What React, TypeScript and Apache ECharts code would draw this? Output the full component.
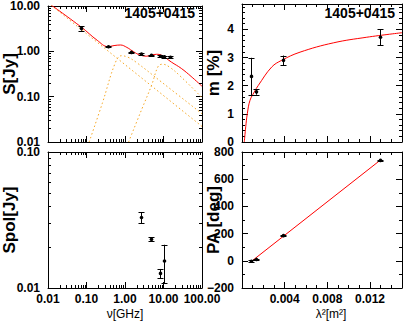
import React, { useEffect, useRef } from 'react';
import * as echarts from 'echarts';

// ---------- Panel 1: total flux density S [Jy] vs frequency [GHz]
const sFreq = [0.074, 0.365, 1.4, 2.64, 4.85, 8.35, 10.45, 14.6];
const sFlux = [3.2, 1.26, 0.95, 0.87, 0.82, 0.78, 0.76, 0.74];
const sErr = [0.35, 0.04, 0.03, 0.03, 0.02, 0.03, 0.03, 0.03];
// total fit (red)
const fitFreq = [0.01, 0.074, 0.19, 0.36, 0.52, 0.76, 1.12, 1.7, 2.43, 3.66, 4.92, 6.6, 8.9, 16, 29, 52, 100];
const fitFlux = [11.8, 3.4, 1.75, 1.27, 1.34, 1.38, 1.22, 0.97, 0.83, 0.78, 0.83, 0.86, 0.82, 0.58, 0.42, 0.28, 0.17];
// components (orange dotted)
const compCFreq = [0.01, 100];
const compCFlux = [11.8, 0.022];
const compAFreq = [0.117, 0.257, 0.56, 0.8, 1.2, 2.03, 8.9, 100];
const compAFlux = [0.01, 0.071, 0.56, 0.8, 0.74, 0.56, 0.21, 0.042];
const compBFreq = [1.24, 2.73, 4.92, 7.3, 9.4, 14.3, 29, 100];
const compBFlux = [0.01, 0.053, 0.18, 0.47, 0.52, 0.45, 0.27, 0.095];

// ---------- Panel 2: fractional polarisation m [%] vs lambda^2
const lam2 = [0.000823, 0.001289, 0.00382, 0.0129];
const mPct = [2.33, 1.78, 2.9, 3.72];
const mErr = [0.66, 0.1, 0.17, 0.29];
const mFitX = [0.000216, 0.00035, 0.0005, 0.00075, 0.00116, 0.00153, 0.00278, 0.00372, 0.00544, 0.00856, 0.0117, 0.015];
const mFitY = [0, 0.54, 1.01, 1.48, 1.78, 2.01, 2.66, 2.9, 3.19, 3.52, 3.72, 3.88];

// ---------- Panel 3: polarised flux Spol [Jy] vs frequency
const pFreq = [2.64, 4.85, 8.35, 10.45];
const pFlux = [0.033, 0.0228, 0.0128, 0.0158];
const pErr = [0.003, 0.0008, 0.001, 0.005];

// ---------- Panel 4: polarisation angle PA [deg] vs lambda^2
const paDeg = [-3, 10, 185, 738];
const paErr = [6, 6, 6, 4];
const paFitX = [0.00082, 0.013];
const paFitY = [-8, 742];

// tick labels
const freqTickLabels = ['0.01', '0.10', '1.00', '10.00', '100.00'];
const sTickLabels = ['0.01', '0.10', '1.00', '10.00'];
const spolTickLabels = ['0.01', '0.10'];
const lamTickLabels = ['0.004', '0.008', '0.012'];

const FONT = 'Liberation Sans';
const BLACK = '#000';
const RED = '#ff0000';
const ORANGE = '#f5a623';

function logMinor(lo: number, hi: number): number[] {
  const out: number[] = [];
  for (let e = Math.round(Math.log10(lo)); e < Math.round(Math.log10(hi)); e++) {
    for (let k = 2; k <= 9; k++) out.push(k * Math.pow(10, e));
  }
  return out;
}

const px = (v: number) => Math.round(v) + 0.5;

function minorTicks(xi: number, yi: number, vals: number[], dir: 'x' | 'y', ref: number, len = 3) {
  return {
    type: 'custom',
    xAxisIndex: xi,
    yAxisIndex: yi,
    silent: true,
    clip: false,
    z: 5,
    encode: { x: 0, y: 1 },
    data: vals.map((v) => (dir === 'x' ? [v, ref] : [ref, v])),
    renderItem: (params: any, api: any) => {
      const cs = params.coordSys;
      const st = { stroke: BLACK, lineWidth: 1 };
      const c = api.coord([api.value(0), api.value(1)]);
      if (dir === 'x') {
        const x = px(c[0]);
        const yb = cs.y + cs.height;
        return {
          type: 'group',
          children: [
            { type: 'line', shape: { x1: x, y1: yb, x2: x, y2: yb - len }, style: st },
            { type: 'line', shape: { x1: x, y1: cs.y, x2: x, y2: cs.y + len }, style: st },
          ],
        };
      }
      const y = px(c[1]);
      const xr = cs.x + cs.width;
      return {
        type: 'group',
        children: [
          { type: 'line', shape: { x1: cs.x, y1: y, x2: cs.x + len, y2: y }, style: st },
          { type: 'line', shape: { x1: xr, y1: y, x2: xr - len, y2: y }, style: st },
        ],
      };
    },
  };
}

function errorBars(xi: number, yi: number, xs: number[], ys: number[], es: number[]) {
  return {
    type: 'custom',
    xAxisIndex: xi,
    yAxisIndex: yi,
    silent: true,
    z: 10,
    encode: { x: 0, y: 1 },
    data: xs.map((x, i) => [x, ys[i], ys[i] - es[i], ys[i] + es[i]]),
    renderItem: (params: any, api: any) => {
      const x = api.value(0);
      const p = api.coord([x, api.value(1)]);
      const a = api.coord([x, api.value(2)]);
      const b = api.coord([x, api.value(3)]);
      const w = 3;
      const cx = px(p[0]);
      const st = { stroke: BLACK, lineWidth: 1 };
      return {
        type: 'group',
        children: [
          { type: 'line', shape: { x1: cx, y1: a[1], x2: cx, y2: b[1] }, style: st },
          { type: 'line', shape: { x1: cx - w, y1: px(a[1]), x2: cx + w, y2: px(a[1]) }, style: st },
          { type: 'line', shape: { x1: cx - w, y1: px(b[1]), x2: cx + w, y2: px(b[1]) }, style: st },
          { type: 'circle', shape: { cx: cx, cy: p[1], r: 1.8 }, style: { fill: BLACK } },
        ],
      };
    },
  };
}

const lineSeries = (xi: number, yi: number, xs: number[], ys: number[], color: string, dotted: boolean, smooth: number | boolean) => ({
  type: 'line',
  xAxisIndex: xi,
  yAxisIndex: yi,
  data: xs.map((x, i) => [x, ys[i]]),
  showSymbol: false,
  symbol: 'none',
  smooth,
  clip: true,
  silent: true,
  z: dotted ? 3 : 4,
  lineStyle: { color, width: 1, type: dotted ? [1.5, 2.5] : 'solid' },
});

const labelStyle = { fontFamily: FONT, fontWeight: 'bold', fontSize: 12, color: BLACK };

function fmtFixed(labels: string[]) {
  return (v: number) => {
    for (const l of labels) {
      if (Math.abs(parseFloat(l) / v - 1) < 1e-6) return l;
    }
    return '';
  };
}

function axisPair(gridIndex: number, kind: 'x' | 'y', base: any, showLabel: boolean, labelExtra: any, nameExtra: any) {
  const common = {
    gridIndex,
    ...base,
    axisLine: { show: true, onZero: false, lineStyle: { color: BLACK, width: 1 } },
    axisTick: { show: true, inside: true, length: 6, lineStyle: { color: BLACK, width: 1 } },
    splitLine: { show: false },
  };
  const main = {
    ...common,
    position: kind === 'x' ? 'bottom' : 'left',
    axisLabel: showLabel ? { show: true, ...labelStyle, ...labelExtra } : { show: false },
    ...(kind === 'y' ? { nameMoveOverlap: false } : {}),
    ...nameExtra,
  };
  const mirror = {
    ...common,
    position: kind === 'x' ? 'top' : 'right',
    axisLabel: { show: false },
  };
  return [main, mirror];
}

export default function App() {
  const ref = useRef<HTMLDivElement>(null);
  useEffect(() => {
    if (!ref.current) return;
    const chart = echarts.init(ref.current, null, { renderer: 'svg' });

    const grids = [
      { left: 45, top: 4, width: 157, height: 138 },
      { left: 242, top: 4, width: 160, height: 138 },
      { left: 45, top: 152, width: 157, height: 136 },
      { left: 242, top: 152, width: 160, height: 136 },
    ];

    const logFreq = { type: 'log', logBase: 10, min: 0.01, max: 100 };
    const linLam = { type: 'value', min: 0, max: 0.015, interval: 0.004, minorTick: { show: true, splitNumber: 4, length: 3, lineStyle: { color: BLACK } } };

    const yName = (name: string, gap: number) => ({
      name,
      nameLocation: 'middle',
      nameRotate: 90,
      nameGap: gap,
      nameTextStyle: { fontFamily: FONT, fontWeight: 'bold', fontSize: 17, color: BLACK },
    });
    const xName = (name: string, gap: number, pad: number[]) => ({
      name,
      nameLocation: 'middle',
      nameGap: gap,
      nameMoveOverlap: false,
      nameTextStyle: { fontFamily: FONT, fontSize: 12, color: BLACK, padding: pad },
    });

    const xAxis = [
      ...axisPair(0, 'x', logFreq, false, {}, {}),
      ...axisPair(1, 'x', linLam, false, {}, {}),
      ...axisPair(2, 'x', logFreq, true, { margin: 5, showMinLabel: true, showMaxLabel: true, formatter: fmtFixed(freqTickLabels) }, xName('ν[GHz]', 20, [0, 0, 0, 0])),
      ...axisPair(3, 'x', linLam, true, { margin: 5, formatter: fmtFixed(lamTickLabels) }, xName('λ²[m²]', 20, [0, 0, 0, 18])),
    ];
    const yAxis = [
      ...axisPair(0, 'y', { type: 'log', logBase: 10, min: 0.01, max: 10 }, true, { margin: 8, showMinLabel: true, showMaxLabel: true, formatter: fmtFixed(sTickLabels) }, yName('S[Jy]', 30)),
      ...axisPair(1, 'y', { type: 'value', min: 0, max: 4.9, interval: 1, minorTick: { show: true, splitNumber: 5, length: 3, lineStyle: { color: BLACK } } }, true, { margin: 8, formatter: (v: number) => (Number.isInteger(v) ? String(v) : '') }, yName('m [%]', 20)),
      ...axisPair(2, 'y', { type: 'log', logBase: 10, min: 0.01, max: 0.1 }, true, { margin: 8, showMinLabel: true, showMaxLabel: true, formatter: fmtFixed(spolTickLabels) }, yName('Spol[Jy]', 30)),
      ...axisPair(3, 'y', { type: 'value', min: -200, max: 800, interval: 200, minorTick: { show: true, splitNumber: 2, length: 3, lineStyle: { color: BLACK } } }, true, { margin: 8, formatter: (v: number) => (v < 0 ? '\u2212' + Math.abs(v) : String(v)) }, yName('PA [deg]', 20)),
    ];

    const freqMinor = logMinor(0.01, 100);
    const series: any[] = [
      // minor ticks on log axes
      minorTicks(0, 0, freqMinor, 'x', 0.01),
      minorTicks(0, 0, logMinor(0.01, 10), 'y', 0.01),
      minorTicks(4, 4, freqMinor, 'x', 0.01),
      minorTicks(4, 4, logMinor(0.01, 0.1), 'y', 0.01),
      // panel 1
      lineSeries(0, 0, compCFreq, compCFlux, ORANGE, true, false),
      lineSeries(0, 0, compAFreq, compAFlux, ORANGE, true, 0.4),
      lineSeries(0, 0, compBFreq, compBFlux, ORANGE, true, 0.4),
      lineSeries(0, 0, fitFreq, fitFlux, RED, false, 0.4),
      errorBars(0, 0, sFreq, sFlux, sErr),
      // panel 2
      lineSeries(2, 2, mFitX, mFitY, RED, false, 0.4),
      errorBars(2, 2, lam2, mPct, mErr),
      // panel 3
      errorBars(4, 4, pFreq, pFlux, pErr),
      // panel 4
      lineSeries(6, 6, paFitX, paFitY, RED, false, false),
      errorBars(6, 6, lam2, paDeg, paErr),
    ];

    chart.setOption({
      animation: false,
      backgroundColor: '#fff',
      grid: grids,
      xAxis,
      yAxis,
      title: [
        { text: '1405+0415', right: 407 - 195, top: 6, padding: 0, textStyle: { fontFamily: FONT, fontWeight: 'bold', fontSize: 14, color: BLACK } },
        { text: '1405+0415', right: 407 - 395, top: 6, padding: 0, textStyle: { fontFamily: FONT, fontWeight: 'bold', fontSize: 14, color: BLACK } },
      ],
      series,
    });
    return () => chart.dispose();
  }, []);
  return <div ref={ref} style={{ position: 'fixed', left: 0, top: 0, width: 407, height: 323, background: '#fff' }} />;
}
